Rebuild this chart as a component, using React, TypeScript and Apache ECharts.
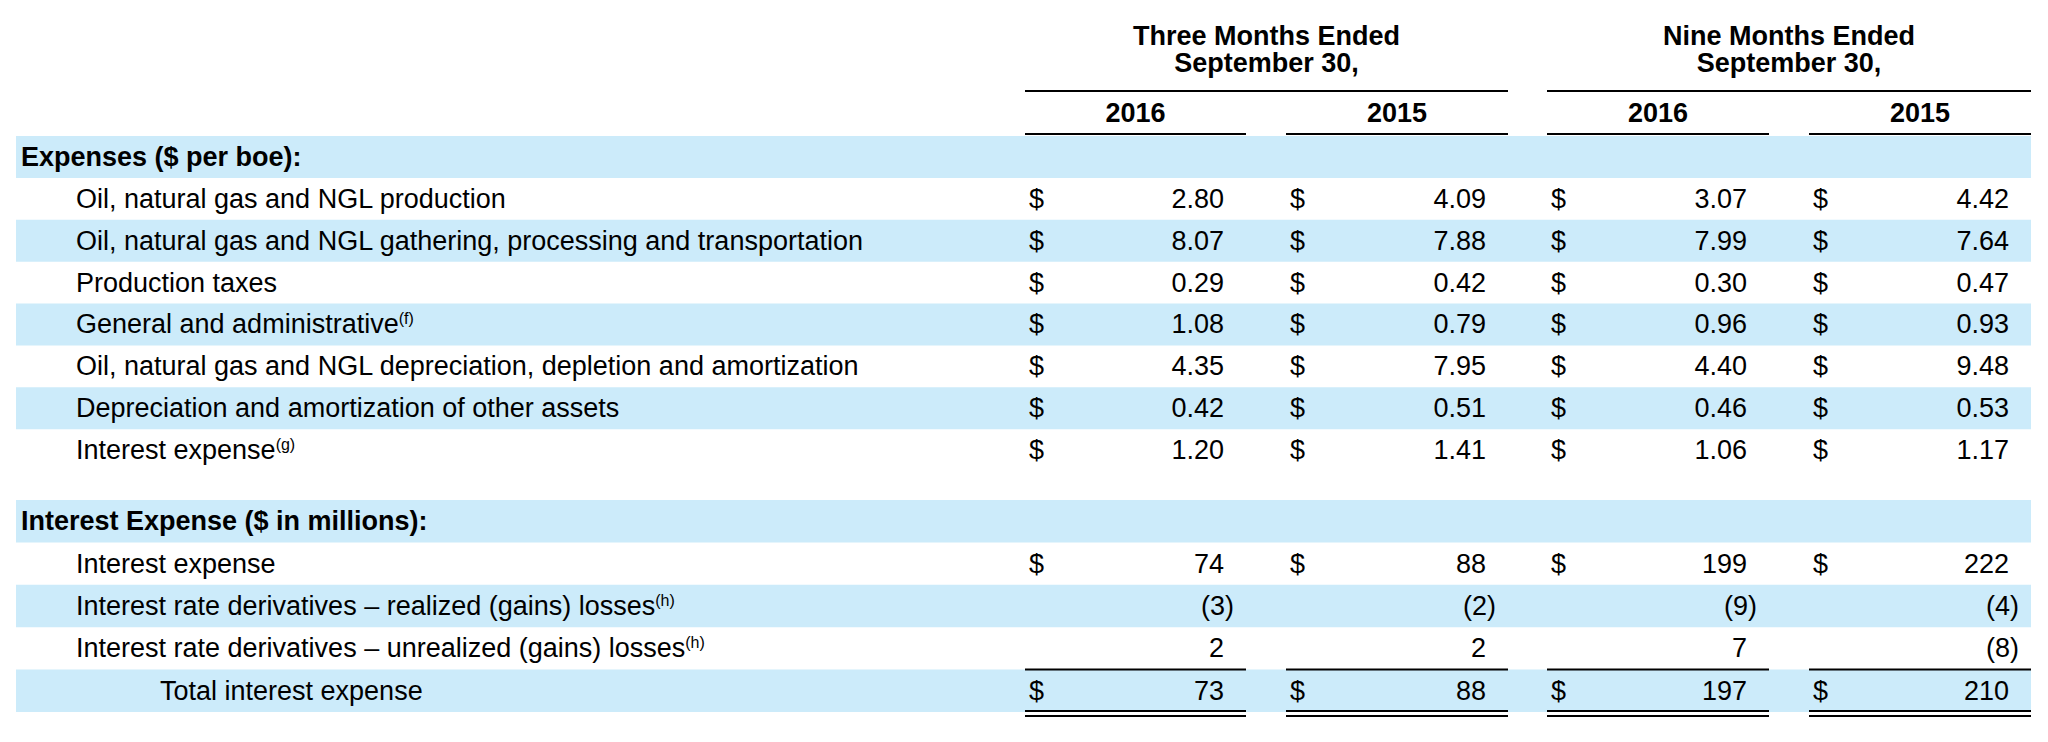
import React, { useEffect, useRef } from "react";
import * as echarts from "echarts";

// ---------- data ----------
const groupHeaders = ["Three Months Ended", "Nine Months Ended"];
const groupSubHeaders = ["September 30,", "September 30,"];
const yearLabels = ["2016", "2015", "2016", "2015"];

const expenseTitle = "Expenses ($ per boe):";
const expenseLabels = [
  "Oil, natural gas and NGL production",
  "Oil, natural gas and NGL gathering, processing and transportation",
  "Production taxes",
  "General and administrative",
  "Oil, natural gas and NGL depreciation, depletion and amortization",
  "Depreciation and amortization of other assets",
  "Interest expense",
];
const expenseNotes = ["", "", "", "(f)", "", "", "(g)"];
const expQ3_2016 = [2.8, 8.07, 0.29, 1.08, 4.35, 0.42, 1.2];
const expQ3_2015 = [4.09, 7.88, 0.42, 0.79, 7.95, 0.51, 1.41];
const expNine2016 = [3.07, 7.99, 0.3, 0.96, 4.4, 0.46, 1.06];
const expNine2015 = [4.42, 7.64, 0.47, 0.93, 9.48, 0.53, 1.17];

const interestTitle = "Interest Expense ($ in millions):";
const interestLabels = [
  "Interest expense",
  "Interest rate derivatives – realized (gains) losses",
  "Interest rate derivatives – unrealized (gains) losses",
  "Total interest expense",
];
const interestNotes = ["", "(h)", "(h)", ""];
const intQ3_2016 = [74, -3, 2, 73];
const intQ3_2015 = [88, -2, 2, 88];
const intNine2016 = [199, -9, 7, 197];
const intNine2015 = [222, -4, -8, 210];
const interestDollar = [true, false, false, true];

// ---------- layout / style ----------
const FONT = "'Liberation Sans', Arial, Helvetica, sans-serif";
const FS = 27;
const BLUE = "#CCEBFA";
const BAND_L = 16;
const BAND_R = 2031;
const COLS = [
  [1025, 1246],
  [1286, 1508],
  [1547, 1769],
  [1809, 2031],
];

type Row = {
  label: string;
  note?: string;
  kind: "title" | "item" | "total";
  values?: (string | null)[];
  negative?: boolean[];
  dollar?: boolean;
};

const fmt2 = (v: number) => v.toFixed(2);
const fmtInt = (v: number) => (v < 0 ? `(${Math.abs(v)})` : String(v));

const expenseRows: Row[] = [
  { label: expenseTitle, kind: "title" },
  ...expenseLabels.map((l, i) => ({
    label: l,
    note: expenseNotes[i],
    kind: "item" as const,
    values: [expQ3_2016[i], expQ3_2015[i], expNine2016[i], expNine2015[i]].map(fmt2),
    negative: [false, false, false, false],
    dollar: true,
  })),
];

const interestRows: Row[] = [
  { label: interestTitle, kind: "title" },
  ...interestLabels.map((l, i) => {
    const vals = [intQ3_2016[i], intQ3_2015[i], intNine2016[i], intNine2015[i]];
    return {
      label: l,
      note: interestNotes[i],
      kind: (i === interestLabels.length - 1 ? "total" : "item") as "total" | "item",
      values: vals.map(fmtInt),
      negative: vals.map((v) => v < 0),
      dollar: interestDollar[i],
    };
  }),
];

function makeRender(rows: Row[]) {
  return (params: any, api: any) => {
    const i = api.value(1) as number;
    const row = rows[i];
    const cy = api.coord([0, i])[1];
    const h = api.size([0, 1])[1];
    const top = cy - h / 2;
    const bottom = cy + h / 2;
    const children: any[] = [];
    if (i % 2 === 0) {
      children.push({
        type: "rect",
        shape: { x: BAND_L, y: top, width: BAND_R - BAND_L, height: h },
        style: { fill: BLUE },
        silent: true,
      });
    }
    const labelX = row.kind === "title" ? 21 : row.kind === "total" ? 160 : 76;
    children.push({
      type: "text",
      x: labelX,
      y: cy,
      style: {
        text: row.note ? `${row.label}{sup|${row.note}}` : row.label,
        fontFamily: FONT,
        fontSize: FS,
        fontWeight: row.kind === "title" ? "bold" : "normal",
        fill: "#000",
        align: "left",
        verticalAlign: "middle",
        rich: {
          sup: { fontSize: 16, fontFamily: FONT, fill: "#000", verticalAlign: "top" },
        },
      },
    });
    if (row.values) {
      row.values.forEach((v, c) => {
        const [l, r] = COLS[c];
        if (row.dollar) {
          children.push({
            type: "text",
            x: l + 4,
            y: cy,
            style: { text: "$", fontFamily: FONT, fontSize: FS, fill: "#000", align: "left", verticalAlign: "middle" },
          });
        }
        if (v !== null) {
          children.push({
            type: "text",
            x: row.negative && row.negative[c] ? r - 12 : r - 22,
            y: cy,
            style: { text: v, fontFamily: FONT, fontSize: FS, fill: "#000", align: "right", verticalAlign: "middle" },
          });
        }
        if (row.kind === "total") {
          children.push({
            type: "line",
            shape: { x1: l, y1: top, x2: r, y2: top },
            style: { stroke: "#000", lineWidth: 2 },
          });
          children.push({
            type: "line",
            shape: { x1: l, y1: bottom - 1, x2: r, y2: bottom - 1 },
            style: { stroke: "#000", lineWidth: 2 },
          });
          children.push({
            type: "line",
            shape: { x1: l, y1: bottom + 4, x2: r, y2: bottom + 4 },
            style: { stroke: "#000", lineWidth: 2 },
          });
        }
      });
    }
    return { type: "group", children };
  };
}

export default function App() {
  const ref = useRef<HTMLDivElement>(null);
  useEffect(() => {
    document.body.style.margin = "0";
    if (!ref.current) return;
    const chart = echarts.init(ref.current, undefined, { renderer: "svg" });

    const headerGraphics: any[] = [];
    groupHeaders.forEach((g, k) => {
      const l = COLS[k * 2][0];
      const r = COLS[k * 2 + 1][1];
      const cx = (l + r) / 2;
      headerGraphics.push({
        type: "text",
        x: cx,
        y: 36,
        style: { text: g, fontFamily: FONT, fontSize: FS, fontWeight: "bold", fill: "#000", align: "center", verticalAlign: "middle" },
      });
      headerGraphics.push({
        type: "text",
        x: cx,
        y: 63,
        style: { text: groupSubHeaders[k], fontFamily: FONT, fontSize: FS, fontWeight: "bold", fill: "#000", align: "center", verticalAlign: "middle" },
      });
      headerGraphics.push({
        type: "line",
        shape: { x1: l, y1: 91, x2: r, y2: 91 },
        style: { stroke: "#000", lineWidth: 2 },
      });
    });
    yearLabels.forEach((y, c) => {
      const [l, r] = COLS[c];
      headerGraphics.push({
        type: "text",
        x: (l + r) / 2,
        y: 113,
        style: { text: y, fontFamily: FONT, fontSize: FS, fontWeight: "bold", fill: "#000", align: "center", verticalAlign: "middle" },
      });
      headerGraphics.push({
        type: "line",
        shape: { x1: l, y1: 134, x2: r, y2: 134 },
        style: { stroke: "#000", lineWidth: 2 },
      });
    });

    chart.setOption({
      animation: false,
      backgroundColor: "#fff",
      grid: [
        { left: 0, right: 0, top: 136, height: 335 },
        { left: 0, right: 0, top: 500, height: 212 },
      ],
      xAxis: [
        { type: "value", min: 0, max: 2048, show: false, gridIndex: 0 },
        { type: "value", min: 0, max: 2048, show: false, gridIndex: 1 },
      ],
      yAxis: [
        { type: "category", data: expenseRows.map((r) => r.label), inverse: true, show: false, gridIndex: 0 },
        { type: "category", data: interestRows.map((r) => r.label), inverse: true, show: false, gridIndex: 1 },
      ],
      series: [
        {
          type: "custom",
          xAxisIndex: 0,
          yAxisIndex: 0,
          renderItem: makeRender(expenseRows),
          encode: { x: 0, y: 1 },
          data: expenseRows.map((_, i) => [0, i]),
          silent: true,
        },
        {
          type: "custom",
          xAxisIndex: 1,
          yAxisIndex: 1,
          renderItem: makeRender(interestRows),
          encode: { x: 0, y: 1 },
          data: interestRows.map((_, i) => [0, i]),
          silent: true,
        },
      ],
      graphic: headerGraphics,
    });
    return () => chart.dispose();
  }, []);
  return <div ref={ref} style={{ width: 2048, height: 742 }} />;
}
